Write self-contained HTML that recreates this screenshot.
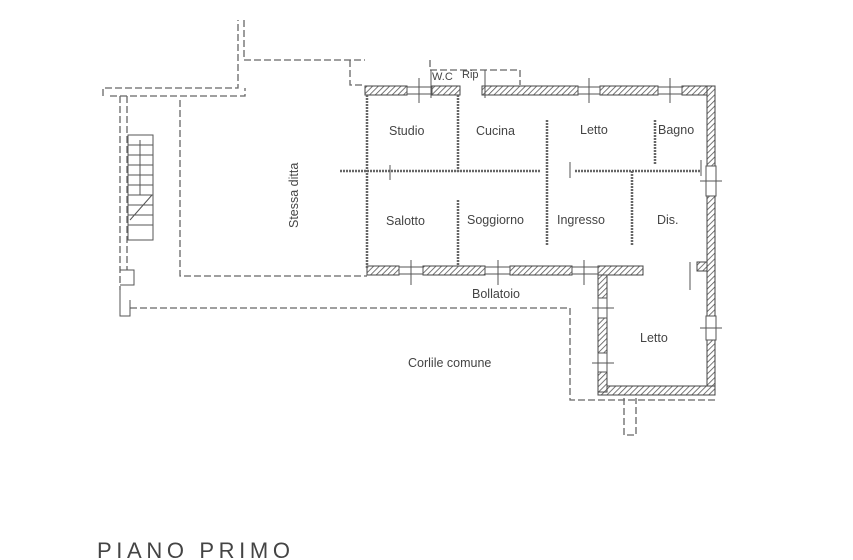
<!DOCTYPE html>
<html><head><meta charset="utf-8"><style>
html,body{margin:0;padding:0;background:#fff;}
svg{display:block}
text{font-family:"Liberation Sans",sans-serif;fill:#444;}
</style></head><body>
<svg width="853" height="560" viewBox="0 0 853 560" xmlns="http://www.w3.org/2000/svg">
<defs>
<pattern id="h" width="4" height="4" patternUnits="userSpaceOnUse" patternTransform="rotate(45)">
<rect width="4" height="4" fill="#fff"/><line x1="0" y1="0" x2="0" y2="4" stroke="#555" stroke-width="1.6"/>
</pattern>
</defs>
<g fill="none" stroke="#666" stroke-width="1.3" stroke-dasharray="7 3">
<polyline points="103,96 103,88 238,88 238,20"/>
<polyline points="244,20 244,60 365,60"/>
<polyline points="110,96 245,96 245,88"/>
<polyline points="180,100 180,276 367,276"/>
<line x1="120" y1="96" x2="120" y2="290"/>
<line x1="127" y1="96" x2="127" y2="270"/>
<polyline points="130,308 570,308 570,400 715,400"/>
<polyline points="624,398 624,435 636,435 636,398"/>
<polyline points="350,60 350,85 365,85"/>
<polyline points="430,60 430,70 520,70 520,85"/>
</g>
<g stroke="#555" stroke-width="1" fill="none">
<rect x="128" y="135" width="25" height="105"/>
<line x1="128" y1="145" x2="153" y2="145"/><line x1="128" y1="155" x2="153" y2="155"/>
<line x1="128" y1="165" x2="153" y2="165"/><line x1="128" y1="175" x2="153" y2="175"/>
<line x1="128" y1="185" x2="153" y2="185"/><line x1="128" y1="195" x2="153" y2="195"/>
<line x1="128" y1="205" x2="153" y2="205"/><line x1="128" y1="215" x2="153" y2="215"/>
<line x1="128" y1="225" x2="153" y2="225"/>
<line x1="130" y1="220" x2="152" y2="195"/><line x1="140" y1="140" x2="140" y2="195"/>
<polyline points="120,270 134,270 134,285 120,285"/>
<polyline points="120,290 120,316 130,316 130,300"/>
</g>
<g fill="url(#h)" stroke="#444" stroke-width="1">
<rect x="365" y="86" width="42" height="9"/>
<rect x="432" y="86" width="28" height="9"/>
<rect x="482" y="86" width="96" height="9"/>
<rect x="600" y="86" width="58" height="9"/>
<rect x="682" y="86" width="33" height="9"/>
<rect x="707" y="86" width="8" height="80"/>
<rect x="707" y="196" width="8" height="120"/>
<rect x="707" y="340" width="8" height="55"/>
<rect x="598" y="386" width="117" height="9"/>
<rect x="598" y="268" width="9" height="30"/>
<rect x="598" y="318" width="9" height="35"/>
<rect x="598" y="372" width="9" height="20"/>
<rect x="367" y="266" width="32" height="9"/>
<rect x="423" y="266" width="62" height="9"/>
<rect x="510" y="266" width="62" height="9"/>
<rect x="598" y="266" width="45" height="9"/>
<rect x="697" y="262" width="10" height="9"/>
</g>
<g stroke="#555" stroke-width="1" fill="none">
<rect x="407" y="87" width="25" height="7"/><line x1="419" y1="78" x2="419" y2="103"/>
<rect x="578" y="87" width="22" height="7"/><line x1="589" y1="78" x2="589" y2="103"/>
<rect x="658" y="87" width="24" height="7"/><line x1="670" y1="78" x2="670" y2="103"/>
<rect x="706" y="166" width="10" height="30"/><line x1="700" y1="181" x2="722" y2="181"/>
<rect x="706" y="316" width="10" height="24"/><line x1="700" y1="328" x2="722" y2="328"/>
<rect x="598" y="298" width="9" height="20"/><line x1="592" y1="308" x2="614" y2="308"/>
<rect x="598" y="353" width="9" height="19"/><line x1="592" y1="363" x2="614" y2="363"/>
<rect x="399" y="267" width="24" height="7"/><line x1="411" y1="260" x2="411" y2="285"/>
<rect x="485" y="267" width="25" height="7"/><line x1="498" y1="260" x2="498" y2="285"/>
<rect x="572" y="267" width="26" height="7"/><line x1="584" y1="260" x2="584" y2="285"/>
</g>
<g stroke="#666" stroke-width="2.5" fill="none" stroke-dasharray="2 1">
<line x1="367" y1="95" x2="367" y2="268"/>
<line x1="458" y1="95" x2="458" y2="172"/>
<line x1="458" y1="200" x2="458" y2="266"/>
<line x1="340" y1="171" x2="540" y2="171"/>
<line x1="575" y1="171" x2="700" y2="171"/>
<line x1="547" y1="120" x2="547" y2="245"/>
<line x1="632" y1="171" x2="632" y2="245"/>
<line x1="655" y1="120" x2="655" y2="165"/>
</g>
<g stroke="#555" stroke-width="1">
<line x1="701" y1="160" x2="701" y2="176"/>
<line x1="570" y1="162" x2="570" y2="178"/>
<line x1="390" y1="165" x2="390" y2="180"/>
<line x1="690" y1="262" x2="690" y2="290"/>
<line x1="485" y1="70" x2="485" y2="98"/>
<line x1="431" y1="70" x2="431" y2="98"/>
</g>
<g font-size="12.5">
<text x="389" y="135">Studio</text>
<text x="476" y="135">Cucina</text>
<text x="580" y="134">Letto</text>
<text x="658" y="134">Bagno</text>
<text x="386" y="225">Salotto</text>
<text x="467" y="224">Soggiorno</text>
<text x="557" y="224">Ingresso</text>
<text x="657" y="224">Dis.</text>
<text x="472" y="298">Bollatoio</text>
<text x="640" y="342">Letto</text>
<text x="408" y="367">Corlile comune</text>
<text x="432" y="80" font-size="11">W.C</text>
<text x="462" y="78" font-size="11">Rip</text>
<text transform="translate(298,228) rotate(-90)">Stessa ditta</text>
<text x="97" y="558" font-size="22" fill="#666" textLength="193" lengthAdjust="spacing">PIANO  PRIMO</text>
</g>
</svg>
</body></html>
